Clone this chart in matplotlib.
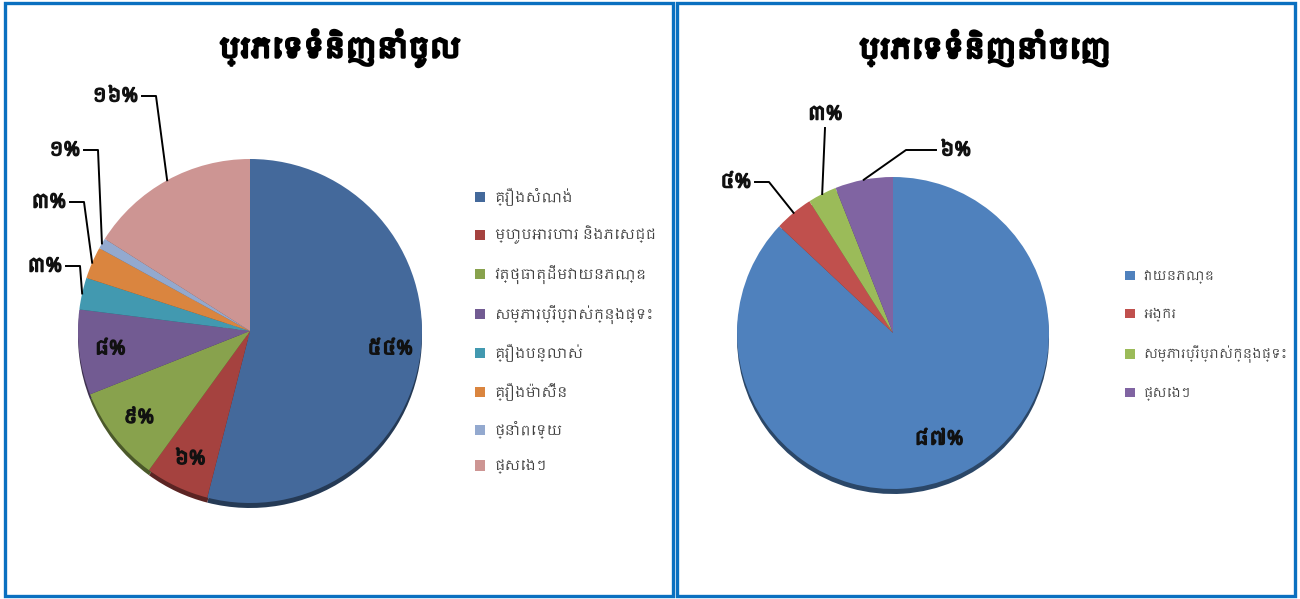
import matplotlib
matplotlib.use("Agg")
import matplotlib.pyplot as plt
from matplotlib import font_manager
from matplotlib.patches import Rectangle
import matplotlib.colors as mcolors
import matplotlib.patheffects as pe
import numpy as np

# --- data ---
import_title = "ប្រភេទទំនិញនាំចូល"
import_labels = ["គ្រឿងសំណង់", "ម្ហូបអារហារ និងភេសជ្ជ", "វត្ថុធាតុដើមវាយនភណ្ឌ",
                 "សម្ភារប្រើប្រាស់ក្នុងផ្ទះ", "គ្រឿងបន្លាស់", "គ្រឿងម៉ាស៊ីន",
                 "ថ្នាំពេទ្យ", "ផ្សេងៗ"]
import_values = [54, 6, 9, 8, 3, 3, 1, 16]
import_colors = ["#44699b", "#a5423f", "#88a24d", "#725b92", "#4299b0",
                 "#da853f", "#93a9cf", "#cd9593"]

export_title = "ប្រភេទទំនិញនាំចេញ"
export_labels = ["វាយនភណ្ឌ", "អង្ករ", "សម្ភារប្រើប្រាស់ក្នុងផ្ទះ", "ផ្សេងៗ"]
export_values = [87, 4, 3, 6]
export_colors = ["#4f81bd", "#c0504d", "#9bbb59", "#8064a2"]

# fonts: use a Khmer font if the system has one
khmer_fonts = sorted({f.name for f in font_manager.fontManager.ttflist if "Khmer" in f.name})
FAMILY = khmer_fonts[:1] + ["DejaVu Sans"]
plt.rcParams["font.family"] = FAMILY

KH_DIGITS = "០១២៣៤៥៦៧៨៩"


def kh_pct(v):
    return "".join(KH_DIGITS[int(c)] for c in str(v)) + "%"


# the khmer font has no bold face, thicken strokes instead
BOLD = [pe.withStroke(linewidth=1.1, foreground="#111111")]
TITLE_BOLD = [pe.withStroke(linewidth=2.0, foreground="black")]

W, H = 1300, 599
fig = plt.figure(figsize=(W / 100, H / 100), dpi=100)
ax = fig.add_axes([0, 0, 1, 1])


def Y(py):
    # image pixel row -> data y
    return H - py


# panel frames
for x0, x1 in [(5, 673), (677, 1295)]:
    ax.add_patch(Rectangle((x0, 3), x1 - x0, H - 6, fill=False,
                           edgecolor="#0a70c0", linewidth=2.4, zorder=0))


def pct_text(x, y, s, ha):
    ax.text(x, y, s, ha=ha, va="center", fontsize=14, color="#111111",
            path_effects=BOLD)


def draw_pie(values, colors, center, radius, pctdist, outside):
    cx, cy = center
    dark = [tuple(np.array(mcolors.to_rgb(c)) * 0.55) for c in colors]
    # shadow rim for a slight 3d look
    ax.pie(values, colors=dark, startangle=90, counterclock=False,
           center=(cx, Y(cy) - 5), radius=radius,
           wedgeprops=dict(linewidth=0))
    wedges, _ = ax.pie(values, colors=colors, startangle=90, counterclock=False,
                       center=(cx, Y(cy)), radius=radius,
                       wedgeprops=dict(linewidth=0))
    for i, (w, v) in enumerate(zip(wedges, values)):
        mid = np.deg2rad((w.theta1 + w.theta2) / 2)
        if i in outside:
            tx, ty, side = outside[i]
            ex = cx + radius * np.cos(mid)
            ey = Y(cy) + radius * np.sin(mid)
            if side == "r":
                pct_text(tx, Y(ty), kh_pct(v), "left")
                ax.plot([tx - 4, tx - 34, ex], [Y(ty), Y(ty), ey],
                        color="black", linewidth=1.4)
            elif side == "c":
                pct_text(tx, Y(ty), kh_pct(v), "center")
                ax.plot([tx, ex], [Y(ty) - 14, ey], color="black", linewidth=1.4)
            else:
                pct_text(tx, Y(ty), kh_pct(v), "right")
                ax.plot([tx + 4, tx + 18, ex], [Y(ty), Y(ty), ey],
                        color="black", linewidth=1.4)
        else:
            pct_text(cx + pctdist * radius * np.cos(mid),
                     Y(cy) + pctdist * radius * np.sin(mid), kh_pct(v), "center")
    return wedges


w1 = draw_pie(import_values, import_colors, (250, 331), 172, 0.82,
              {4: (62, 266, "l"), 5: (66, 202, "l"), 6: (80, 150, "l"),
               7: (138, 96, "l")})
w2 = draw_pie(export_values, export_colors, (893, 333), 156, 0.74,
              {1: (751, 182, "l"), 2: (825, 114, "c"), 3: (940, 150, "r")})

ax.text(340, Y(48), import_title, ha="center", va="center", fontsize=20,
        color="black", path_effects=TITLE_BOLD)
ax.text(985, Y(48), export_title, ha="center", va="center", fontsize=20,
        color="black", path_effects=TITLE_BOLD)

leg_kw = dict(loc="upper left", frameon=False, handlelength=0.75,
              handleheight=0.75, handletextpad=0.7, labelcolor="#404040")
leg1 = ax.legend(w1, import_labels, bbox_to_anchor=(462 / W, 1 - 175 / H),
                 fontsize=10, labelspacing=1.47, **leg_kw)
ax.add_artist(leg1)
ax.legend(w2, export_labels, bbox_to_anchor=(1114 / W, 1 - 259 / H),
          fontsize=9, labelspacing=1.88, **leg_kw)

# pie() resets the limits, so set the pixel frame last
ax.set_xlim(0, W)
ax.set_ylim(0, H)
ax.set_aspect("equal")
ax.axis("off")

fig.savefig("out.png", dpi=100)
